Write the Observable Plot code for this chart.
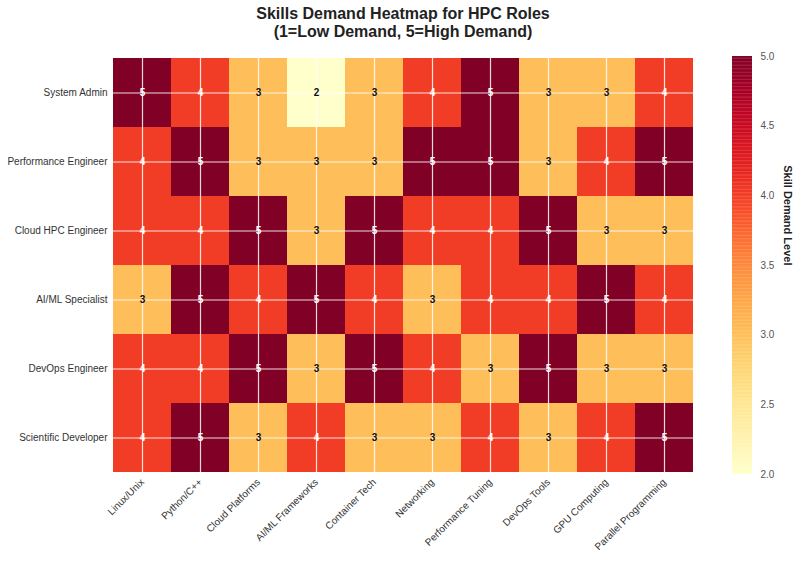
<!DOCTYPE html>
<html>
<head>
<meta charset="utf-8">
<script src="https://cdn.jsdelivr.net/npm/d3@7"></script>
<script src="https://cdn.jsdelivr.net/npm/@observablehq/plot@0.6"></script>
<style>
  html, body { margin: 0; padding: 0; background: #fff; }
  body { width: 800px; height: 562px; overflow: hidden; font-family: "Liberation Sans", Arial, sans-serif; }
  #title { height: 50px; text-align: center; font-weight: bold; font-size: 16px; line-height: 18px; color: #222; padding-top: 5px; box-sizing: border-box; padding-left: 6px; }
  #row { display: flex; flex-direction: row; }
</style>
</head>
<body>
<div id="title">Skills Demand Heatmap for HPC Roles<br>(1=Low Demand, 5=High Demand)</div>
<div id="row"></div>
<script>
const roles = ["System Admin", "Performance Engineer", "Cloud HPC Engineer", "AI/ML Specialist", "DevOps Engineer", "Scientific Developer"];
const skills = ["Linux/Unix", "Python/C++", "Cloud Platforms", "AI/ML Frameworks", "Container Tech", "Networking", "Performance Tuning", "DevOps Tools", "GPU Computing", "Parallel Programming"];
const systemAdmin = [5, 4, 3, 2, 3, 4, 5, 3, 3, 4];
const performanceEngineer = [4, 5, 3, 3, 3, 5, 5, 3, 4, 5];
const cloudHpcEngineer = [4, 4, 5, 3, 5, 4, 4, 5, 3, 3];
const aiMlSpecialist = [3, 5, 4, 5, 4, 3, 4, 4, 5, 4];
const devOpsEngineer = [4, 4, 5, 3, 5, 4, 3, 5, 3, 3];
const scientificDeveloper = [4, 5, 3, 4, 3, 3, 4, 3, 4, 5];
const colorbarTicks = [2.0, 2.5, 3.0, 3.5, 4.0, 4.5, 5.0];
const colorDomain = [2, 5];

const matrix = [systemAdmin, performanceEngineer, cloudHpcEngineer, aiMlSpecialist, devOpsEngineer, scientificDeveloper];
const data = [];
matrix.forEach((vals, i) => vals.forEach((v, j) => data.push({role: roles[i], skill: skills[j], value: v})));

const font = "'Liberation Sans', Arial, sans-serif";

const main = Plot.plot({
  width: 710,
  height: 512,
  marginTop: 6,
  marginBottom: 88,
  marginLeft: 112,
  marginRight: 17,
  style: {fontFamily: font, fontSize: "10px", color: "#333", background: "white"},
  x: {domain: skills, padding: 0, label: null, tickRotate: -45, tickSize: 0, tickPadding: 6},
  y: {domain: roles, padding: 0, label: null, tickSize: 0, tickPadding: 5},
  color: {type: "linear", scheme: "ylorrd", domain: colorDomain},
  marks: [
    Plot.cell(data, {x: "skill", y: "role", fill: "value", inset: 0}),
    Plot.gridX({stroke: "white", strokeOpacity: 0.85, strokeWidth: 1.2}),
    Plot.gridY({stroke: "white", strokeOpacity: 0.85, strokeWidth: 1.2}),
    Plot.text(data, {x: "skill", y: "role", text: d => String(d.value), fill: d => d.value >= 4 ? "white" : "#111", fontWeight: "bold", fontSize: 10})
  ]
});

const rampValues = d3.range(2, 5, 0.01);
const bar = Plot.plot({
  width: 90,
  height: 512,
  marginTop: 6,
  marginBottom: 88,
  marginLeft: 22,
  marginRight: 48,
  style: {fontFamily: font, fontSize: "10px", color: "#555", background: "white"},
  x: {domain: [0, 1], axis: null},
  y: {domain: colorDomain, axis: "right", ticks: colorbarTicks, tickFormat: d3.format(".1f"), tickSize: 0, tickPadding: 8, label: null},
  color: {type: "linear", scheme: "ylorrd", domain: colorDomain},
  marks: [
    Plot.rect(rampValues, {x1: 0, x2: 1, y1: d => d, y2: d => Math.min(5, d + 0.012), fill: d => d}),
    Plot.text(["Skill Demand Level"], {frameAnchor: "right", dx: 35, rotate: 90, fontWeight: "bold", fontSize: 11, fill: "#222"})
  ]
});

document.getElementById("row").append(main, bar);
</script>
</body>
</html>
